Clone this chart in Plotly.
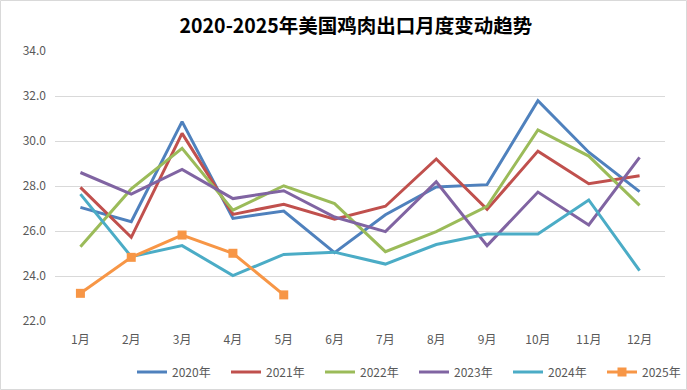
import plotly.graph_objects as go

months = ["1月", "2月", "3月", "4月", "5月", "6月", "7月", "8月", "9月", "10月", "11月", "12月"]
y2020 = [27.05, 26.41, 30.86, 26.56, 26.89, 25.04, 26.72, 27.96, 28.06, 31.79, 29.50, 27.75]
y2021 = [27.94, 25.72, 30.34, 26.74, 27.19, 26.52, 27.10, 29.20, 26.96, 29.55, 28.10, 28.46]
y2022 = [25.30, 27.87, 29.67, 26.93, 28.01, 27.22, 25.08, 25.97, 27.10, 30.49, 29.33, 27.14]
y2023 = [28.60, 27.64, 28.74, 27.44, 27.79, 26.62, 25.97, 28.19, 25.35, 27.73, 26.27, 29.27]
y2024 = [27.64, 24.86, 25.35, 24.02, 24.96, 25.06, 24.53, 25.40, 25.87, 25.87, 27.38, 24.24]
y2025 = [23.23, 24.83, 25.82, 25.01, 23.16]

series = [
    ("2020年", y2020, "#4F81BD"),
    ("2021年", y2021, "#C0504D"),
    ("2022年", y2022, "#9BBB59"),
    ("2023年", y2023, "#8064A2"),
    ("2024年", y2024, "#4BACC6"),
    ("2025年", y2025, "#F79646"),
]

fig = go.Figure()
for name, vals, color in series:
    is_marker = name == "2025年"
    fig.add_trace(go.Scatter(
        x=months[:len(vals)], y=vals, name=name,
        mode="lines+markers" if is_marker else "lines",
        line=dict(color=color, width=3),
        marker=dict(symbol="square", size=9, color=color),
    ))

W, H = 687, 390
ml, mr, mt, mb = 55, 22, 51, 69
pw, ph = W - ml - mr, H - mt - mb

fig.update_layout(
    width=W, height=H,
    margin=dict(l=ml, r=mr, t=mt, b=mb),
    paper_bgcolor="white", plot_bgcolor="white",
    font=dict(family="Noto Sans CJK SC, Noto Sans, sans-serif", size=12, color="#595959"),
    title=dict(text="<b>2020-2025年美国鸡肉出口月度变动趋势</b>",
               x=356 / W, xanchor="center", y=1 - 26 / H, yanchor="middle",
               font=dict(size=19.5, color="#000000", family="Noto Sans CJK SC, sans-serif")),
    showlegend=True,
    legend=dict(orientation="h", xref="container", yref="container",
                x=132 / W, xanchor="left", y=1 - 372 / H, yanchor="middle",
                font=dict(size=12, color="#595959"), itemwidth=30, entrywidth=49,
                bgcolor="rgba(0,0,0,0)"),
    xaxis=dict(type="category", range=[-0.5, 11.5], showgrid=False, showline=False,
               zeroline=False, ticks="", ticklabelstandoff=10, automargin=False,
               tickfont=dict(size=12, color="#595959")),
    yaxis=dict(range=[22, 34], dtick=2, tickformat=".1f", showgrid=True, gridcolor="#D9D9D9",
               gridwidth=1, zeroline=False, showline=False, ticks="", ticklabelstandoff=8,
               automargin=False, tickfont=dict(size=12, color="#595959")),
    shapes=[dict(type="rect", xref="paper", yref="paper",
                 x0=(0.5 - ml) / pw, x1=(W - 0.5 - ml) / pw,
                 y0=(H - mb - (H - 0.5)) / ph, y1=(H - mb - 0.5) / ph,
                 line=dict(color="#D9D9D9", width=1), fillcolor="rgba(0,0,0,0)", layer="below")],
)

fig.write_html("out.html", config={"displayModeBar": False},
               post_script="document.body.style.margin='0';document.body.style.overflow='hidden';")
